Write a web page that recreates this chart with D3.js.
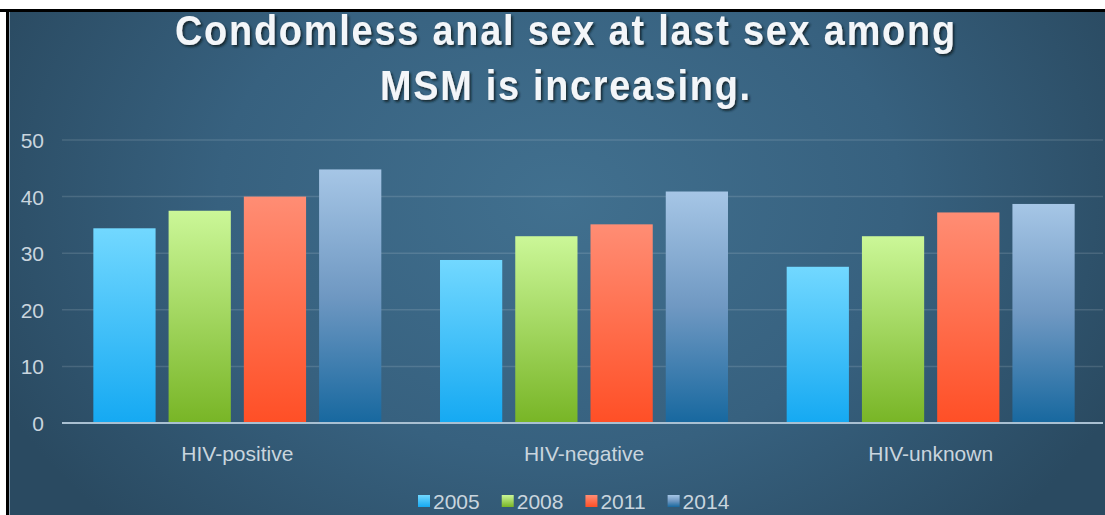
<!DOCTYPE html>
<html>
<head>
<meta charset="utf-8">
<script src="https://cdn.jsdelivr.net/npm/d3@7"></script>
<style>
  html, body { margin: 0; padding: 0; background: #ffffff; }
  svg { display: block; }
  text { font-family: "Liberation Sans", Arial, sans-serif; }
</style>
</head>
<body>
<svg id="chart" width="1105" height="515"></svg>
<script>
// Share of MSM reporting condomless anal sex at last sex (%)
const categories = ["HIV-positive", "HIV-negative", "HIV-unknown"];
const years = ["2005", "2008", "2011", "2014"];
const values2005 = [34.4, 28.8, 27.6];
const values2008 = [37.5, 33.0, 33.0];
const values2011 = [40.0, 35.1, 37.2];
const values2014 = [44.8, 40.9, 38.7];
const yTicks = [0, 10, 20, 30, 40, 50];
const titleLines = ["Condomless anal sex at last sex among", "MSM is increasing."];

const seriesValues = [values2005, values2008, values2011, values2014];
const seriesColors = [
  { top: "#72d8ff", bottom: "#15a9f2" },
  { top: "#cbf798", bottom: "#78b526" },
  { top: "#ff8d74", bottom: "#ff4f26" },
  { top: "#a6c6e6", bottom: "#17689f" }
];

const W = 1105, H = 515;
const svg = d3.select("#chart");
const defs = svg.append("defs");

// page frame: white margin with black rule on top and left
svg.append("rect").attr("width", W).attr("height", H).attr("fill", "#ffffff");

const bg = defs.append("radialGradient").attr("id", "bg")
  .attr("gradientUnits", "userSpaceOnUse")
  .attr("cx", 560).attr("cy", 200).attr("r", 620)
  .attr("gradientTransform", "translate(560,200) scale(1,0.75) translate(-560,-200)");
bg.append("stop").attr("offset", "0%").attr("stop-color", "#41708f");
bg.append("stop").attr("offset", "55%").attr("stop-color", "#37617f");
bg.append("stop").attr("offset", "100%").attr("stop-color", "#2a4a61");

svg.append("rect").attr("x", 9).attr("y", 11).attr("width", W - 9).attr("height", H - 11)
  .attr("fill", "url(#bg)");
svg.append("rect").attr("x", 0).attr("y", 9).attr("width", W).attr("height", 3).attr("fill", "#000");
svg.append("rect").attr("x", 6).attr("y", 9).attr("width", 3).attr("height", H - 9).attr("fill", "#000");
svg.append("rect").attr("x", 9).attr("y", 12).attr("width", 1).attr("height", H - 12).attr("fill", "#8fa4b4");

// title with drop shadow; glyphs slightly condensed, letters spread a little
const shadow = defs.append("filter").attr("id", "shadow")
  .attr("x", "-5%").attr("y", "-20%").attr("width", "110%").attr("height", "140%");
shadow.append("feDropShadow").attr("dx", 2).attr("dy", 2).attr("stdDeviation", 1.2)
  .attr("flood-color", "#0b1a26").attr("flood-opacity", 0.85);

const condense = 0.9;
const titleSpec = [
  { text: titleLines[0], y: 45, len: 780 },
  { text: titleLines[1], y: 100, len: 370 }
];
svg.append("g").attr("filter", "url(#shadow)")
  .attr("transform", `translate(565,0) scale(${condense},1)`)
  .selectAll("text").data(titleSpec).join("text")
  .attr("x", 0).attr("y", d => d.y)
  .attr("text-anchor", "middle")
  .attr("font-size", 42).attr("font-weight", "bold")
  .attr("fill", "#f3f6f9")
  .attr("textLength", d => d.len / condense).attr("lengthAdjust", "spacing")
  .text(d => d.text);

// scales
const x0 = d3.scaleBand().domain(categories).range([64, 1104]).paddingInner(0).paddingOuter(0);
const x1 = d3.scaleBand().domain(years).range([0, x0.bandwidth()])
  .paddingInner(0.173).paddingOuter(0.39);
const y = d3.scaleLinear().domain([0, 50]).range([423, 140]);

// gridlines
svg.append("g").selectAll("line").data(yTicks.filter(t => t > 0)).join("line")
  .attr("x1", 62).attr("x2", 1103)
  .attr("y1", d => y(d)).attr("y2", d => y(d))
  .attr("stroke", "#ffffff").attr("stroke-opacity", 0.13).attr("stroke-width", 1.5);

// y axis labels
const yAxis = d3.axisLeft(y).tickValues(yTicks).tickSize(0).tickPadding(0);
const yg = svg.append("g").attr("transform", "translate(44,0)").call(yAxis);
yg.select(".domain").remove();
yg.selectAll("text")
  .attr("font-family", "'Liberation Sans', Arial, sans-serif")
  .attr("font-size", 21).attr("fill", "#c9d5de").attr("dy", "0.36em");

// bar gradients
seriesColors.forEach((c, i) => {
  const g = defs.append("linearGradient").attr("id", "bar" + i)
    .attr("x1", 0).attr("y1", 0).attr("x2", 0).attr("y2", 1);
  g.append("stop").attr("offset", "0%").attr("stop-color", c.top);
  if (i === 3) g.append("stop").attr("offset", "50%").attr("stop-color", "#6f98c2");
  g.append("stop").attr("offset", "100%").attr("stop-color", c.bottom);
});

// bars
const bars = [];
categories.forEach((cat, ci) => {
  years.forEach((yr, si) => bars.push({ cat, yr, si, v: seriesValues[si][ci] }));
});
svg.append("g").selectAll("rect").data(bars).join("rect")
  .attr("x", d => x0(d.cat) + x1(d.yr))
  .attr("y", d => y(d.v))
  .attr("width", x1.bandwidth())
  .attr("height", d => y(0) - y(d.v))
  .attr("fill", d => `url(#bar${d.si})`);

// baseline
svg.append("line").attr("x1", 62).attr("x2", 1103).attr("y1", y(0)).attr("y2", y(0))
  .attr("stroke", "#a9c0d2").attr("stroke-width", 2);

// category labels
const xAxis = d3.axisBottom(x0).tickSize(0).tickPadding(0);
const xg = svg.append("g").attr("transform", "translate(0,446)").call(xAxis);
xg.select(".domain").remove();
xg.selectAll("text")
  .attr("font-family", "'Liberation Sans', Arial, sans-serif")
  .attr("font-size", 21).attr("fill", "#c9d5de").attr("dy", "0.71em");

// legend
const legend = svg.append("g").attr("transform", "translate(0,501)");
let lx = 418;
years.forEach((yr, i) => {
  const item = legend.append("g").attr("transform", `translate(${lx},0)`);
  item.append("rect").attr("x", 0).attr("y", -6).attr("width", 12).attr("height", 12)
    .attr("fill", `url(#bar${i})`);
  const t = item.append("text").attr("x", 15).attr("y", 0).attr("dy", "0.36em")
    .attr("font-size", 21).attr("fill", "#c9d5de").text(yr);
  lx += 15 + t.node().getComputedTextLength() + 22;
});
</script>
</body>
</html>
